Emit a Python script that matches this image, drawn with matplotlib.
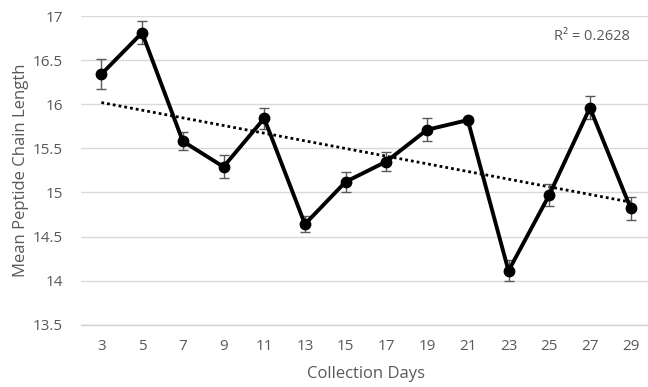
import numpy as np
import matplotlib.pyplot as plt

days = [3, 5, 7, 9, 11, 13, 15, 17, 19, 21, 23, 25, 27, 29]
mean_length = [16.34, 16.81, 15.58, 15.29, 15.84, 14.64, 15.12,
               15.35, 15.71, 15.82, 14.11, 14.97, 15.96, 14.82]
err = [0.17, 0.13, 0.10, 0.13, 0.12, 0.09, 0.11,
       0.11, 0.13, 0.02, 0.12, 0.12, 0.13, 0.13]
r2_text = 'R\u00b2 = 0.2628'
yticks = [13.5, 14, 14.5, 15, 15.5, 16, 16.5, 17]

grey = '#595959'
plt.rcParams['font.family'] = ['Open Sans', 'DejaVu Sans']

fig = plt.figure(figsize=(6.48, 3.87), dpi=100)
ax = fig.add_axes([81 / 648, 1 - 324.7 / 387, 570 / 648, (324.7 - 16) / 387])

x = np.arange(len(days))

# linear trend over category index, like a spreadsheet trendline
slope, icpt = np.polyfit(x, mean_length, 1)
ax.plot(x, slope * x + icpt, color='black', lw=2, ls=(0, (1, 1.1)), zorder=2)

ax.errorbar(x, mean_length, yerr=err, fmt='none', ecolor=grey, elinewidth=1,
            capsize=3.5, capthick=1, zorder=3)
ax.plot(x, mean_length, color='black', lw=2.8, marker='o', ms=7.5, zorder=4)

ax.set_xlim(-0.5, len(days) - 0.5)
ax.set_ylim(13.5, 17)
ax.set_xticks(x)
ax.set_xticklabels([str(d) for d in days])
ax.set_yticks(yticks)
ax.set_yticklabels(['%g' % t for t in yticks])
ax.tick_params(length=0, labelsize=11, labelcolor=grey)
ax.tick_params(axis='x', pad=10)
ax.tick_params(axis='y', pad=13)

ax.grid(axis='y', color='#d9d9d9', lw=1)
ax.set_axisbelow(True)
for s in ['top', 'right', 'left']:
    ax.spines[s].set_visible(False)
ax.spines['bottom'].set_color('#d0d0d0')
ax.spines['bottom'].set_linewidth(1)

ax.set_xlabel('Collection Days', fontsize=12, color=grey, labelpad=9)
ax.set_ylabel('Mean Peptide Chain Length', fontsize=12, color=grey, labelpad=3)

fig.text(630 / 648, 1 - 37 / 387, r2_text, ha='right', va='center',
         fontsize=10.5, color=grey)

fig.savefig('out.png', dpi=100)
